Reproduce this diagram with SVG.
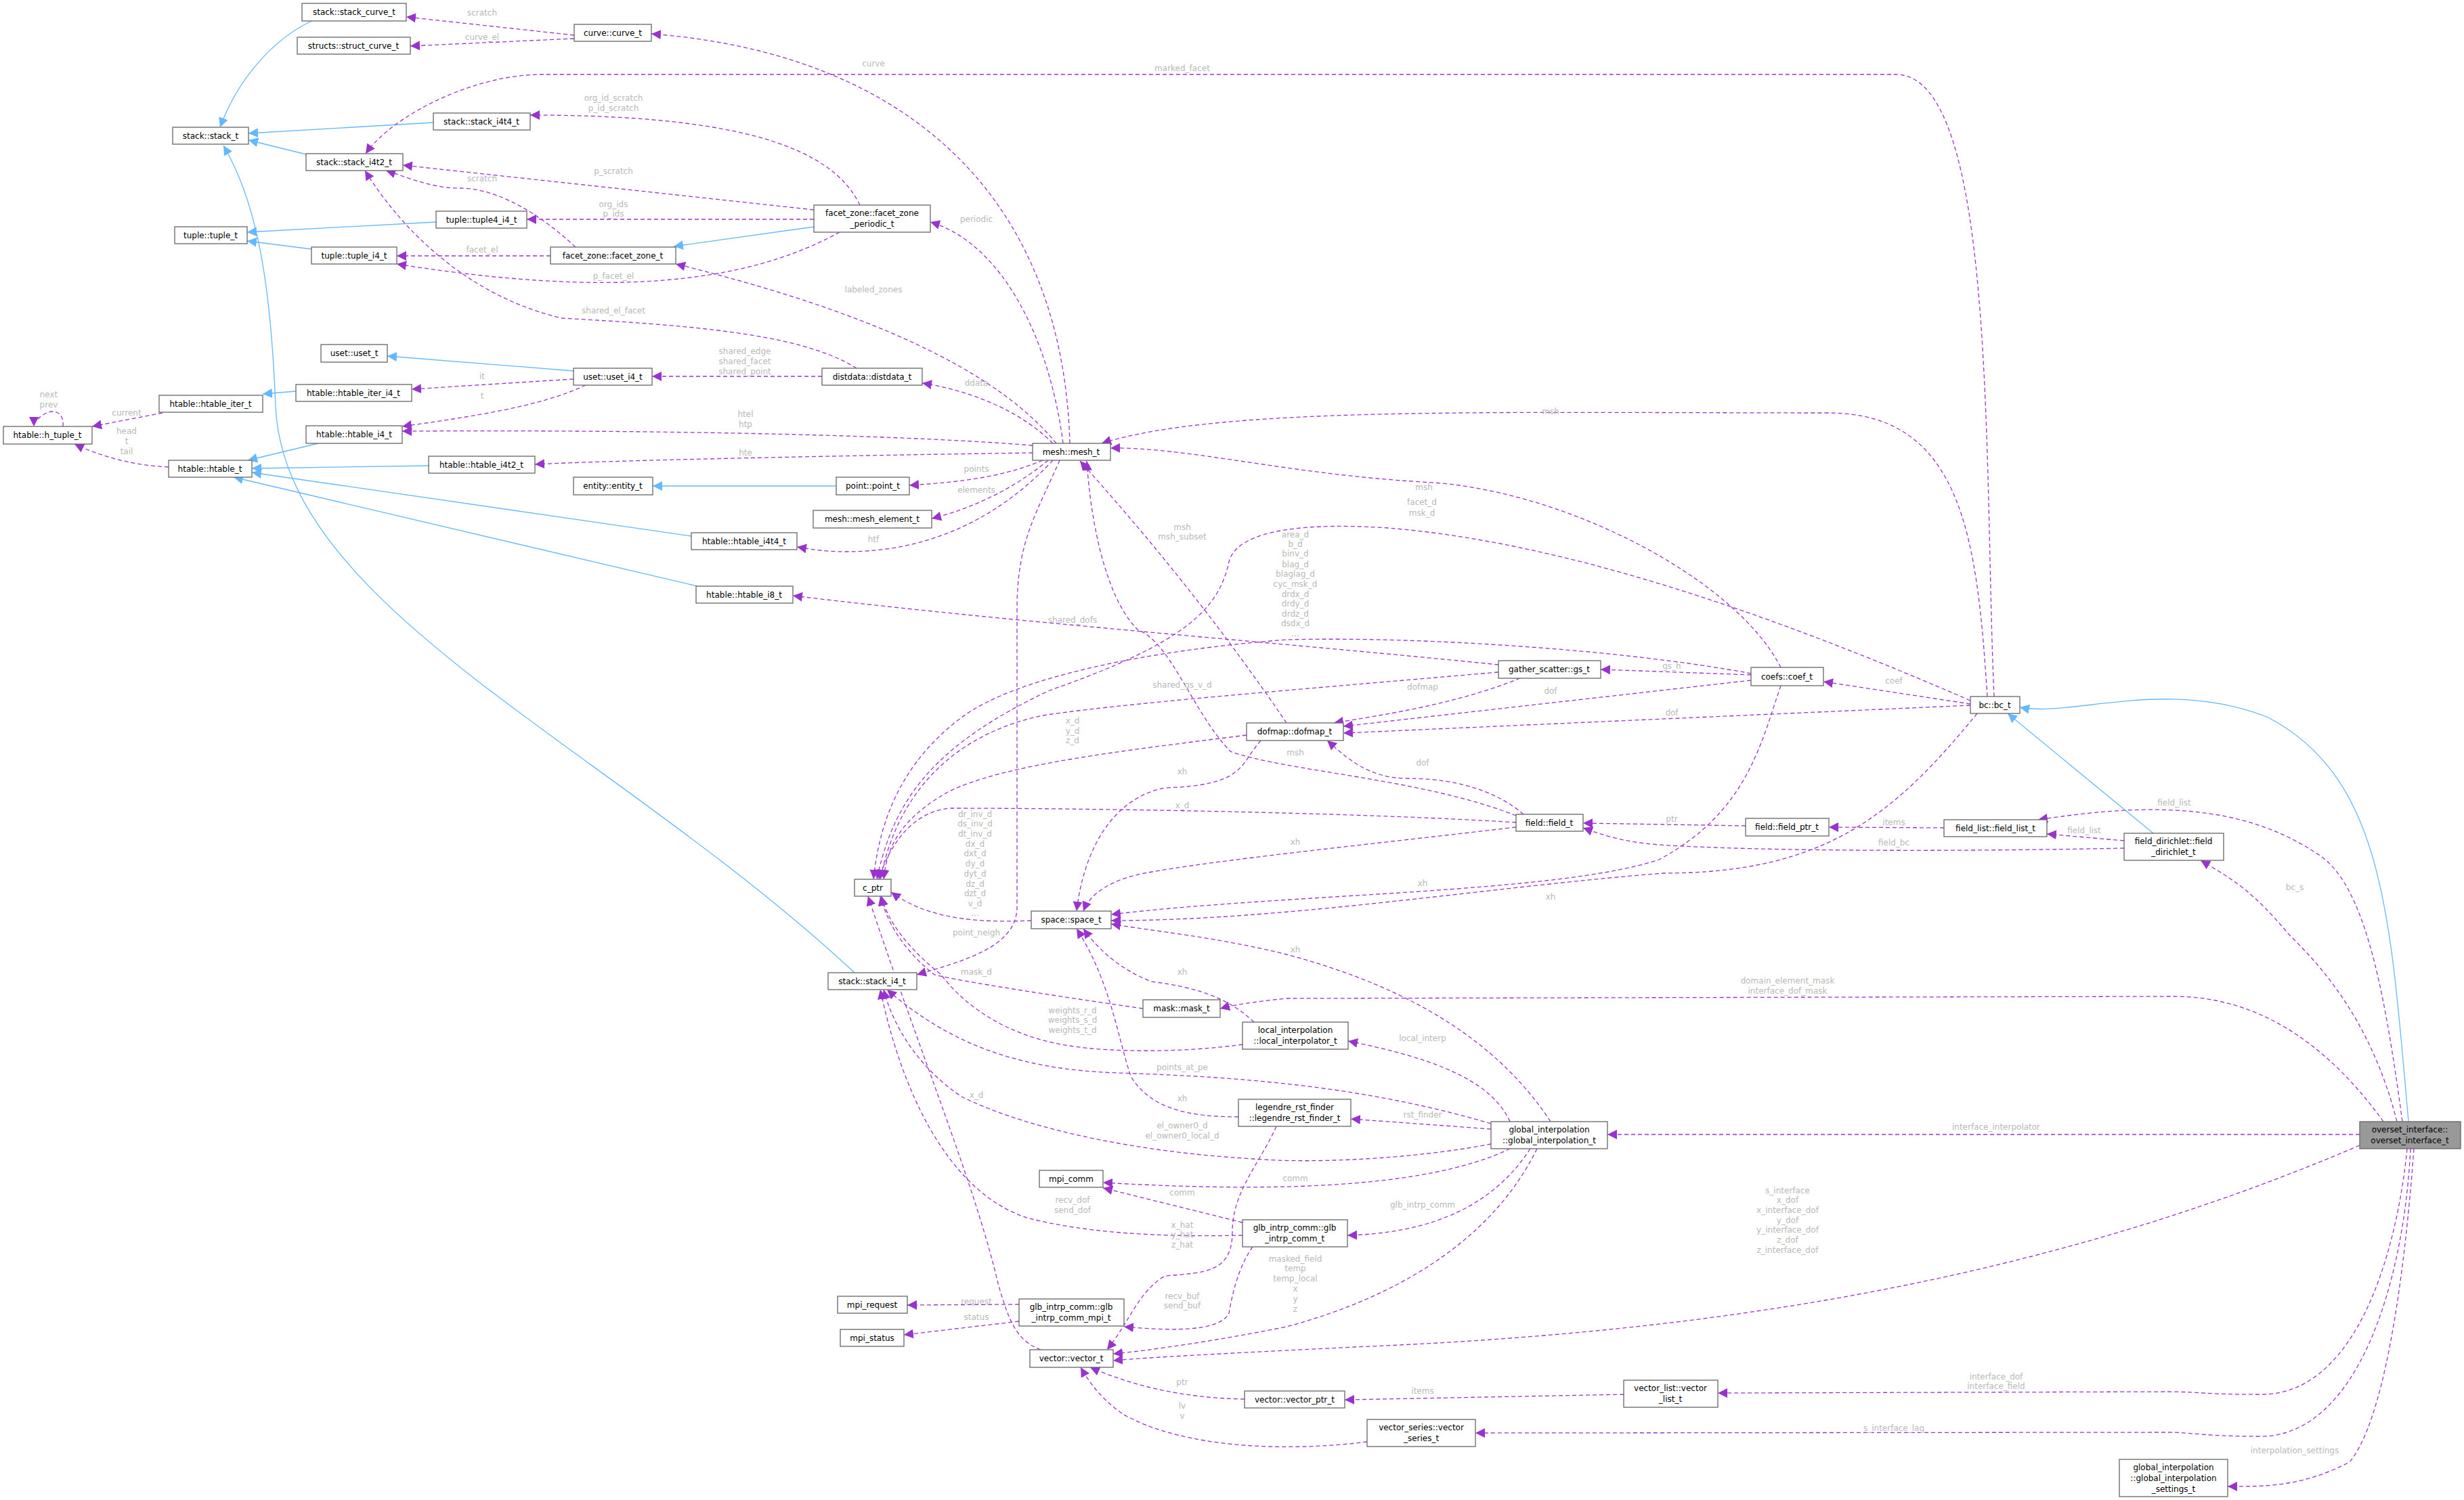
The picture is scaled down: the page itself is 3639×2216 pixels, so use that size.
<svg xmlns="http://www.w3.org/2000/svg" width="3639" height="2216" viewBox="0 0 3639 2216">
<style>
.n rect{fill:#fff;stroke:#666;stroke-width:1.3}
.n text{font-family:"DejaVu Sans",sans-serif;font-size:12px;fill:#000;text-anchor:middle}
.e path{fill:none;stroke:#9a32cd;stroke-width:1.3;stroke-dasharray:6,4}
.e path.b{stroke:#63b8ff;stroke-dasharray:none}
.e text{font-family:"DejaVu Sans",sans-serif;font-size:12px;fill:#b8b8b8;text-anchor:middle}
</style>
<defs>
<marker id="p" viewBox="0 0 10 10" refX="10" refY="5" markerWidth="14" markerHeight="14" markerUnits="userSpaceOnUse" orient="auto"><path d="M0,0L10,5L0,10z" fill="#9a32cd"/></marker>
<marker id="bl" viewBox="0 0 10 10" refX="10" refY="5" markerWidth="14" markerHeight="14" markerUnits="userSpaceOnUse" orient="auto"><path d="M0,0L10,5L0,10z" fill="#63b8ff"/></marker>
</defs>
<rect width="3639" height="2216" fill="#fff"/>
<g class="e" id="edges">
<path class="b" marker-end="url(#bl)" d="M460,31C400,60 350,120 325,188"/>
<path class="b" marker-end="url(#bl)" d="M640,181L367,197"/>
<path class="b" marker-end="url(#bl)" d="M452,228L367,207"/>
<path class="b" marker-end="url(#bl)" d="M1262,1437C900,1100 420,900 407,600C400,420 380,300 330,215"/>
<path class="b" marker-end="url(#bl)" d="M644,328L365,343"/>
<path class="b" marker-end="url(#bl)" d="M460,368L365,356"/>
<path class="b" marker-end="url(#bl)" d="M1202,335L995,364"/>
<path class="b" marker-end="url(#bl)" d="M847,548L572,526"/>
<path class="b" marker-end="url(#bl)" d="M437,578L388,582"/>
<path class="b" marker-end="url(#bl)" d="M470,655L366,680"/>
<path class="b" marker-end="url(#bl)" d="M633,688L372,692"/>
<path class="b" marker-end="url(#bl)" d="M1021,792L372,698"/>
<path class="b" marker-end="url(#bl)" d="M1030,866L345,705"/>
<path class="b" marker-end="url(#bl)" d="M1235,718L964,718"/>
<path class="b" marker-end="url(#bl)" d="M3180,1231L2965,1054"/>
<path class="b" marker-end="url(#bl)" d="M3557,1657C3530,1350 3520,1150 3350,1060C3200,1000 3060,1060 2983,1045"/>
<path marker-end="url(#p)" d="M848,52L600,25"/><text x="712" y="23">scratch</text>
<path marker-end="url(#p)" d="M848,57L606,68"/><text x="712" y="59">curve_el</text>
<path marker-end="url(#p)" d="M1580,655C1570,300 1350,80 962,50"/><text x="1290" y="98">curve</text>
<path marker-end="url(#p)" d="M2945,1029C2930,700 2950,110 2800,110L800,110C700,110 580,170 540,227"/><text x="1746" y="105">marked_facet</text>
<path marker-end="url(#p)" d="M1270,303C1230,220 1100,170 783,170"/><text x="906" y="149">org_id_scratch</text><text x="906" y="164">p_id_scratch</text>
<path marker-end="url(#p)" d="M1202,310L595,244"/><text x="906" y="257">p_scratch</text>
<path marker-end="url(#p)" d="M850,365C780,300 720,278 680,278C640,278 610,265 570,252"/><text x="712" y="268">scratch</text>
<path marker-end="url(#p)" d="M1202,324L778,324"/><text x="906" y="306">org_ids</text><text x="906" y="320">p_ids</text>
<path marker-end="url(#p)" d="M813,378L586,378"/><text x="712" y="373">facet_el</text>
<path marker-end="url(#p)" d="M1240,343C1100,420 900,440 586,390"/><text x="906" y="412">p_facet_el</text>
<path marker-end="url(#p)" d="M1265,544C1180,490 1000,480 830,470C700,440 600,350 539,252"/><text x="906" y="463">shared_el_facet</text>
<path marker-end="url(#p)" d="M1214,556L963,556"/><text x="1100" y="523">shared_edge</text><text x="1100" y="538">shared_facet</text><text x="1100" y="553">shared_point</text>
<path marker-end="url(#p)" d="M847,560L608,575"/><text x="712" y="560">it</text>
<path marker-end="url(#p)" d="M865,569C800,600 700,615 594,630"/><text x="712" y="589">t</text>
<path marker-end="url(#p)" d="M1525,658C1300,640 900,635 594,637"/><text x="1101" y="616">htel</text><text x="1101" y="631">htp</text>
<path marker-end="url(#p)" d="M1525,669C1300,672 900,680 790,686"/><text x="1101" y="673">hte</text>
<path marker-end="url(#p)" d="M240,610L136,630"/><text x="187" y="614">current</text>
<path marker-end="url(#p)" d="M249,690C200,688 150,675 110,656"/><text x="187" y="641">head</text><text x="187" y="656">t</text><text x="187" y="671">tail</text>
<path marker-end="url(#p)" d="M93,630C95,605 75,605 65,612C55,618 50,625 50,630"/><text x="72" y="587">next</text><text x="72" y="602">prev</text>
<path marker-end="url(#p)" d="M1570,655C1550,500 1480,360 1374,328"/><text x="1442" y="328">periodic</text>
<path marker-end="url(#p)" d="M1560,655C1450,520 1200,440 998,390"/><text x="1290" y="432">labeled_zones</text>
<path marker-end="url(#p)" d="M1555,655C1500,600 1420,575 1362,566"/><text x="1442" y="570">ddata</text>
<path marker-end="url(#p)" d="M1540,680C1480,705 1420,712 1343,717"/><text x="1442" y="697">points</text>
<path marker-end="url(#p)" d="M1548,680C1500,720 1440,750 1376,766"/><text x="1442" y="728">elements</text>
<path marker-end="url(#p)" d="M1555,680C1480,760 1380,815 1250,815C1220,815 1200,812 1177,808"/><text x="1290" y="801">htf</text>
<path marker-end="url(#p)" d="M1565,680C1530,760 1502,800 1502,900L1502,1340C1502,1400 1420,1420 1354,1440"/>
<text x="1442" y="1382">point_neigh</text>
<path marker-end="url(#p)" d="M2935,1029C2920,800 2900,610 2700,610C2200,610 1800,600 1627,655"/><text x="2290" y="612">msh</text>
<path marker-end="url(#p)" d="M2630,986C2560,850 2300,720 2100,712C1900,700 1750,660 1640,662"/><text x="2103" y="724">msh</text>
<path marker-end="url(#p)" d="M1900,1068C1820,950 1720,820 1595,681"/><text x="1746" y="783">msh</text><text x="1746" y="797">msh_subset</text>
<path marker-end="url(#p)" d="M2239,1205C2100,1150 1900,1140 1817,1110C1760,1050 1730,950 1680,930C1630,880 1610,760 1605,681"/><text x="1913" y="1116">msh</text>
<path marker-end="url(#p)" d="M2586,995C2400,960 2100,940 1901,945C1700,960 1500,1000 1420,1060C1340,1120 1300,1200 1290,1299"/>
<text x="1913" y="794">area_d</text><text x="1913" y="808">b_d</text><text x="1913" y="822">binv_d</text><text x="1913" y="838">blag_d</text><text x="1913" y="852">blaglag_d</text><text x="1913" y="867">cyc_msk_d</text><text x="1913" y="882">drdx_d</text><text x="1913" y="896">drdy_d</text><text x="1913" y="911">drdz_d</text><text x="1913" y="925">dsdx_d</text><text x="1913" y="940">...</text>
<path marker-end="url(#p)" d="M2910,1035C2600,900 2300,800 2050,780C1900,770 1825,790 1815,830C1800,900 1750,950 1550,1020C1380,1100 1320,1180 1295,1299"/><text x="2100" y="746">facet_d</text><text x="2100" y="762">msk_d</text>
<path marker-end="url(#p)" d="M2586,997L2364,989"/><text x="2469" y="988">gs_h</text>
<path marker-end="url(#p)" d="M2213,982C1900,950 1500,920 1171,880"/><text x="1584" y="920">shared_dofs</text>
<path marker-end="url(#p)" d="M2213,993C1900,1020 1650,1040 1540,1057C1430,1080 1330,1150 1300,1299"/><text x="1746" y="1016">shared_gs_v_d</text>
<path marker-end="url(#p)" d="M2245,1002C2150,1040 2050,1055 1970,1068"/><text x="2101" y="1019">dofmap</text>
<path marker-end="url(#p)" d="M2586,1005L1984,1073"/><text x="2290" y="1025">dof</text>
<path marker-end="url(#p)" d="M2910,1042L1984,1083"/><text x="2469" y="1057">dof</text>
<path marker-end="url(#p)" d="M2250,1203C2200,1160 2130,1150 2080,1150C2020,1150 1990,1120 1960,1094"/><text x="2101" y="1131">dof</text>
<path marker-end="url(#p)" d="M1841,1086C1650,1110 1480,1130 1400,1170C1330,1210 1310,1250 1305,1299"/><text x="1584" y="1069">x_d</text><text x="1584" y="1084">y_d</text><text x="1584" y="1098">z_d</text>
<path marker-end="url(#p)" d="M1862,1094C1830,1130 1840,1160 1720,1164C1640,1180 1600,1260 1590,1346"/><text x="1746" y="1144">xh</text>
<path marker-end="url(#p)" d="M2239,1215C2000,1200 1600,1194 1403,1194C1340,1200 1310,1260 1298,1299"/><text x="1746" y="1194">x_d</text>
<path marker-end="url(#p)" d="M2239,1222C2000,1250 1800,1270 1690,1290C1640,1300 1610,1320 1600,1346"/><text x="1913" y="1248">xh</text>
<path marker-end="url(#p)" d="M2630,1013C2600,1100 2580,1200 2450,1270C2300,1320 1900,1320 1641,1351"/><text x="2101" y="1309">xh</text>
<path marker-end="url(#p)" d="M2920,1054C2800,1200 2700,1290 2457,1290C2200,1310 1900,1360 1641,1360"/><text x="2290" y="1329">xh</text>
<path marker-end="url(#p)" d="M1523,1360C1420,1365 1360,1350 1316,1318"/>
<text x="1440" y="1207">dr_inv_d</text><text x="1440" y="1221">ds_inv_d</text><text x="1440" y="1236">dt_inv_d</text><text x="1440" y="1251">dx_d</text><text x="1440" y="1265">dxt_d</text><text x="1440" y="1280">dy_d</text><text x="1440" y="1295">dyt_d</text><text x="1440" y="1310">dz_d</text><text x="1440" y="1324">dzt_d</text><text x="1440" y="1339">v_d</text><text x="1440" y="1353">...</text>
<path marker-end="url(#p)" d="M2290,1657C2200,1520 2050,1450 1900,1410C1800,1385 1700,1375 1641,1365"/><text x="1913" y="1407">xh</text>
<path marker-end="url(#p)" d="M1852,1510C1820,1480 1780,1460 1700,1450C1650,1430 1620,1400 1600,1372"/><text x="1746" y="1440">xh</text>
<path marker-end="url(#p)" d="M1829,1650C1760,1650 1700,1640 1670,1590C1650,1530 1640,1450 1590,1372"/><text x="1746" y="1627">xh</text>
<path marker-end="url(#p)" d="M1688,1490C1550,1470 1420,1450 1380,1440C1330,1400 1310,1360 1300,1324"/><text x="1442" y="1440">mask_d</text>
<path marker-end="url(#p)" d="M3520,1657C3450,1560 3350,1472 3210,1472L1900,1475C1850,1480 1820,1485 1802,1490"/><text x="2640" y="1453">domain_element_mask</text><text x="2640" y="1468">interface_dof_mask</text>
<path marker-end="url(#p)" d="M1835,1543C1750,1555 1640,1555 1580,1545C1480,1530 1420,1480 1390,1440C1340,1400 1310,1360 1302,1324"/><text x="1584" y="1497">weights_r_d</text><text x="1584" y="1511">weights_s_d</text><text x="1584" y="1526">weights_t_d</text>
<path marker-end="url(#p)" d="M2230,1657C2200,1590 2100,1560 1991,1538"/><text x="2101" y="1538">local_interp</text>
<path marker-end="url(#p)" d="M2202,1660C2000,1600 1800,1590 1650,1585C1500,1580 1400,1540 1310,1462"/><text x="1746" y="1581">points_at_pe</text>
<path marker-end="url(#p)" d="M2202,1668L1995,1653"/><text x="2101" y="1651">rst_finder</text>
<path marker-end="url(#p)" d="M2202,1690C2100,1710 1950,1720 1850,1712C1650,1700 1500,1660 1420,1620C1360,1580 1320,1520 1305,1462"/><text x="1746" y="1667">el_owner0_d</text><text x="1746" y="1682">el_owner0_local_d</text>
<path marker-end="url(#p)" d="M2230,1697C2100,1760 1850,1760 1629,1747"/><text x="1913" y="1745">comm</text>
<path marker-end="url(#p)" d="M1835,1806L1629,1755"/><text x="1746" y="1766">comm</text>
<path marker-end="url(#p)" d="M2260,1697C2200,1790 2100,1822 1990,1825"/><text x="2101" y="1784">glb_intrp_comm</text>
<path marker-end="url(#p)" d="M1835,1825C1700,1828 1600,1820 1520,1800C1420,1770 1340,1650 1300,1462"/><text x="1584" y="1777">recv_dof</text><text x="1584" y="1792">send_dof</text>
<path marker-end="url(#p)" d="M1885,1664C1860,1720 1820,1760 1820,1820C1820,1880 1780,1880 1720,1885C1680,1910 1670,1950 1635,1994"/><text x="1746" y="1814">x_hat</text><text x="1746" y="1828">y_hat</text><text x="1746" y="1843">z_hat</text>
<path marker-end="url(#p)" d="M1850,1842C1830,1870 1820,1910 1815,1940C1800,1970 1720,1965 1660,1960"/><text x="1746" y="1919">recv_buf</text><text x="1746" y="1933">send_buf</text>
<path marker-end="url(#p)" d="M2270,1697C2200,1840 2050,1920 1900,1960C1800,1980 1700,1995 1644,2000"/><text x="1913" y="1864">masked_field</text><text x="1913" y="1878">temp</text><text x="1913" y="1893">temp_local</text><text x="1913" y="1908">x</text><text x="1913" y="1923">y</text><text x="1913" y="1938">z</text>
<path marker-end="url(#p)" d="M3485,1692C3000,1900 2500,1970 2000,1990C1800,2000 1700,2005 1644,2010"/><text x="2640" y="1763">s_interface</text><text x="2640" y="1777">x_dof</text><text x="2640" y="1792">x_interface_dof</text><text x="2640" y="1807">y_dof</text><text x="2640" y="1821">y_interface_dof</text><text x="2640" y="1836">z_dof</text><text x="2640" y="1851">z_interface_dof</text>
<path marker-end="url(#p)" d="M1505,1927L1340,1928"/><text x="1442" y="1927">request</text>
<path marker-end="url(#p)" d="M1505,1952L1335,1972"/><text x="1442" y="1950">status</text>
<path marker-end="url(#p)" d="M1537,1994C1500,1980 1490,1950 1475,1900C1440,1750 1360,1560 1282,1324"/><text x="1442" y="1622">x_d</text>
<path marker-end="url(#p)" d="M1838,2067C1750,2065 1680,2050 1610,2020"/><text x="1746" y="2046">ptr</text>
<path marker-end="url(#p)" d="M2019,2130C1900,2145 1750,2140 1660,2090C1630,2070 1610,2045 1596,2020"/><text x="1746" y="2081">lv</text><text x="1746" y="2096">v</text>
<path marker-end="url(#p)" d="M2398,2060L1986,2068"/><text x="2101" y="2059">items</text>
<path marker-end="url(#p)" d="M3555,1697C3540,1850 3480,2060 3340,2060C3250,2060 3250,2056 3200,2056L2537,2058"/><text x="2948" y="2038">interface_dof</text><text x="2948" y="2052">interface_field</text>
<path marker-end="url(#p)" d="M3560,1697C3550,1900 3480,2120 3340,2122C3250,2122 3240,2116 3200,2116L2179,2117"/><text x="2797" y="2114">s_interface_lag</text>
<path marker-end="url(#p)" d="M3565,1697C3550,1900 3520,2100 3470,2160C3400,2196 3350,2196 3290,2196"/><text x="3389" y="2147">interpolation_settings</text>
<path marker-end="url(#p)" d="M3485,1676L2374,1676"/><text x="2948" y="1669">interface_interpolator</text>
<path marker-end="url(#p)" d="M3540,1657C3500,1500 3420,1420 3380,1380C3330,1320 3300,1300 3250,1271"/><text x="3389" y="1315">bc_s</text>
<path marker-end="url(#p)" d="M3548,1657C3520,1450 3490,1300 3420,1260C3300,1180 3150,1190 3010,1211"/><text x="3211" y="1190">field_list</text>
<path marker-end="url(#p)" d="M3137,1242L3023,1232"/><text x="3078" y="1231">field_list</text>
<path marker-end="url(#p)" d="M3137,1253C2900,1258 2600,1258 2450,1248C2400,1244 2370,1235 2338,1223"/><text x="2797" y="1249">field_bc</text>
<path marker-end="url(#p)" d="M2871,1223L2701,1222"/><text x="2797" y="1219">items</text>
<path marker-end="url(#p)" d="M2578,1220L2338,1216"/><text x="2469" y="1214">ptr</text>
<path marker-end="url(#p)" d="M2910,1040L2693,1007"/><text x="2797" y="1010">coef</text>
</g>
<g class="n" id="stack_curve_t"><rect x="446" y="5" width="154" height="26"/><text x="523" y="22">stack::stack_curve_t</text></g>
<g class="n" id="struct_curve_t"><rect x="439" y="55" width="167" height="25"/><text x="522" y="72">structs::struct_curve_t</text></g>
<g class="n" id="curve_t"><rect x="848" y="36" width="114" height="25"/><text x="905" y="53">curve::curve_t</text></g>
<g class="n" id="stack_t"><rect x="255" y="188" width="112" height="25"/><text x="311" y="205">stack::stack_t</text></g>
<g class="n" id="stack_i4t4_t"><rect x="640" y="167" width="143" height="25"/><text x="711" y="184">stack::stack_i4t4_t</text></g>
<g class="n" id="stack_i4t2_t"><rect x="452" y="227" width="143" height="25"/><text x="523" y="244">stack::stack_i4t2_t</text></g>
<g class="n" id="tuple4_i4_t"><rect x="644" y="312" width="134" height="25"/><text x="711" y="329">tuple::tuple4_i4_t</text></g>
<g class="n" id="tuple_t"><rect x="258" y="335" width="107" height="25"/><text x="311" y="352">tuple::tuple_t</text></g>
<g class="n" id="tuple_i4_t"><rect x="460" y="365" width="126" height="25"/><text x="523" y="382">tuple::tuple_i4_t</text></g>
<g class="n" id="facet_zone_t"><rect x="813" y="365" width="185" height="25"/><text x="905" y="382">facet_zone::facet_zone_t</text></g>
<g class="n" id="facet_zone_periodic_t"><rect x="1202" y="303" width="172" height="40"/><text x="1288" y="319">facet_zone::facet_zone</text><text x="1288" y="335">_periodic_t</text></g>
<g class="n" id="uset_t"><rect x="474" y="509" width="98" height="26"/><text x="523" y="526">uset::uset_t</text></g>
<g class="n" id="uset_i4_t"><rect x="847" y="544" width="116" height="25"/><text x="905" y="561">uset::uset_i4_t</text></g>
<g class="n" id="distdata_t"><rect x="1214" y="544" width="148" height="25"/><text x="1288" y="561">distdata::distdata_t</text></g>
<g class="n" id="htable_iter_i4_t"><rect x="437" y="568" width="171" height="25"/><text x="522" y="585">htable::htable_iter_i4_t</text></g>
<g class="n" id="htable_iter_t"><rect x="235" y="584" width="153" height="25"/><text x="311" y="601">htable::htable_iter_t</text></g>
<g class="n" id="h_tuple_t"><rect x="5" y="630" width="131" height="26"/><text x="70" y="647">htable::h_tuple_t</text></g>
<g class="n" id="htable_i4_t"><rect x="452" y="629" width="142" height="26"/><text x="523" y="646">htable::htable_i4_t</text></g>
<g class="n" id="htable_t"><rect x="249" y="680" width="123" height="25"/><text x="310" y="697">htable::htable_t</text></g>
<g class="n" id="htable_i4t2_t"><rect x="633" y="674" width="157" height="25"/><text x="711" y="691">htable::htable_i4t2_t</text></g>
<g class="n" id="entity_t"><rect x="847" y="705" width="117" height="26"/><text x="905" y="722">entity::entity_t</text></g>
<g class="n" id="mesh_t"><rect x="1525" y="655" width="115" height="25"/><text x="1582" y="672">mesh::mesh_t</text></g>
<g class="n" id="point_t"><rect x="1235" y="705" width="108" height="26"/><text x="1289" y="722">point::point_t</text></g>
<g class="n" id="mesh_element_t"><rect x="1201" y="754" width="175" height="26"/><text x="1288" y="771">mesh::mesh_element_t</text></g>
<g class="n" id="htable_i4t4_t"><rect x="1021" y="787" width="156" height="25"/><text x="1099" y="804">htable::htable_i4t4_t</text></g>
<g class="n" id="htable_i8_t"><rect x="1028" y="866" width="143" height="25"/><text x="1099" y="883">htable::htable_i8_t</text></g>
<g class="n" id="gs_t"><rect x="2213" y="976" width="151" height="26"/><text x="2288" y="993">gather_scatter::gs_t</text></g>
<g class="n" id="coef_t"><rect x="2586" y="986" width="107" height="27"/><text x="2639" y="1004">coefs::coef_t</text></g>
<g class="n" id="bc_t"><rect x="2910" y="1029" width="73" height="25"/><text x="2946" y="1046">bc::bc_t</text></g>
<g class="n" id="dofmap_t"><rect x="1841" y="1068" width="143" height="26"/><text x="1912" y="1085">dofmap::dofmap_t</text></g>
<g class="n" id="field_t"><rect x="2239" y="1203" width="99" height="25"/><text x="2288" y="1220">field::field_t</text></g>
<g class="n" id="field_ptr_t"><rect x="2578" y="1209" width="123" height="26"/><text x="2639" y="1226">field::field_ptr_t</text></g>
<g class="n" id="field_list_t"><rect x="2871" y="1211" width="152" height="25"/><text x="2947" y="1228">field_list::field_list_t</text></g>
<g class="n" id="field_dirichlet_t"><rect x="3137" y="1231" width="147" height="40"/><text x="3210" y="1247">field_dirichlet::field</text><text x="3210" y="1263">_dirichlet_t</text></g>
<g class="n" id="c_ptr"><rect x="1262" y="1299" width="54" height="25"/><text x="1289" y="1316">c_ptr</text></g>
<g class="n" id="space_t"><rect x="1523" y="1346" width="118" height="26"/><text x="1582" y="1363">space::space_t</text></g>
<g class="n" id="stack_i4_t"><rect x="1223" y="1437" width="131" height="25"/><text x="1288" y="1454">stack::stack_i4_t</text></g>
<g class="n" id="mask_t"><rect x="1688" y="1477" width="114" height="26"/><text x="1745" y="1494">mask::mask_t</text></g>
<g class="n" id="local_interpolator_t"><rect x="1835" y="1510" width="156" height="40"/><text x="1913" y="1526">local_interpolation</text><text x="1913" y="1542">::local_interpolator_t</text></g>
<g class="n" id="legendre_rst_finder_t"><rect x="1829" y="1624" width="166" height="40"/><text x="1912" y="1640">legendre_rst_finder</text><text x="1912" y="1656">::legendre_rst_finder_t</text></g>
<g class="n" id="global_interpolation_t"><rect x="2202" y="1657" width="172" height="40"/><text x="2288" y="1673">global_interpolation</text><text x="2288" y="1689">::global_interpolation_t</text></g>
<g class="n" id="mpi_comm"><rect x="1535" y="1729" width="94" height="25"/><text x="1582" y="1746">mpi_comm</text></g>
<g class="n" id="glb_intrp_comm_t"><rect x="1835" y="1802" width="155" height="40"/><text x="1912" y="1818">glb_intrp_comm::glb</text><text x="1912" y="1834">_intrp_comm_t</text></g>
<g class="n" id="mpi_request"><rect x="1237" y="1915" width="103" height="25"/><text x="1288" y="1932">mpi_request</text></g>
<g class="n" id="glb_intrp_comm_mpi_t"><rect x="1505" y="1919" width="155" height="40"/><text x="1582" y="1935">glb_intrp_comm::glb</text><text x="1582" y="1951">_intrp_comm_mpi_t</text></g>
<g class="n" id="mpi_status"><rect x="1241" y="1964" width="94" height="25"/><text x="1288" y="1981">mpi_status</text></g>
<g class="n" id="vector_t"><rect x="1521" y="1994" width="123" height="26"/><text x="1582" y="2011">vector::vector_t</text></g>
<g class="n" id="vector_ptr_t"><rect x="1838" y="2055" width="148" height="25"/><text x="1912" y="2072">vector::vector_ptr_t</text></g>
<g class="n" id="vector_series_t"><rect x="2019" y="2097" width="160" height="40"/><text x="2099" y="2113">vector_series::vector</text><text x="2099" y="2129">_series_t</text></g>
<g class="n" id="vector_list_t"><rect x="2398" y="2039" width="139" height="40"/><text x="2467" y="2055">vector_list::vector</text><text x="2467" y="2071">_list_t</text></g>
<g class="n" id="global_interpolation_settings_t"><rect x="3130" y="2156" width="160" height="55"/><text x="3210" y="2172">global_interpolation</text><text x="3210" y="2188">::global_interpolation</text><text x="3210" y="2204">_settings_t</text></g>
<g class="n" id="overset_interface_t"><rect x="3485" y="1657" width="149" height="40" style="fill:#999"/><text x="3559" y="1673">overset_interface::</text><text x="3559" y="1689">overset_interface_t</text></g>
</svg>
